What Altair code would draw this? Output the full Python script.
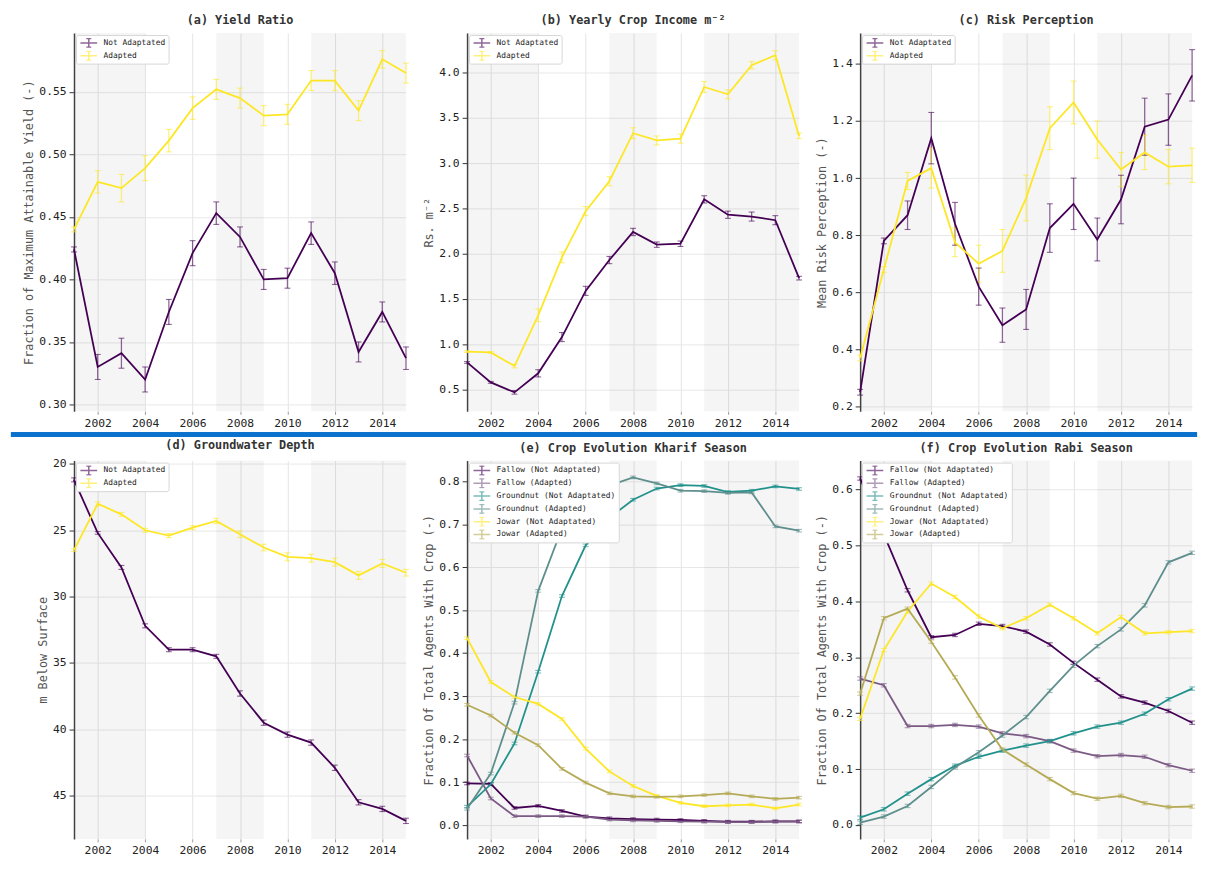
import altair as alt
import pandas as pd

YEARS = list(range(2001, 2016))
BANDS_START = [2001, 2007, 2011]
BANDS_END = [2004, 2009, 2015]

# (a) Yield ratio
a_na = [0.424, 0.330, 0.341, 0.320, 0.374, 0.421, 0.453, 0.434, 0.400, 0.401, 0.437, 0.405, 0.342, 0.374, 0.337]
a_na_err = [0.002, 0.010, 0.012, 0.010, 0.010, 0.010, 0.009, 0.008, 0.008, 0.008, 0.009, 0.009, 0.008, 0.008, 0.009]
a_ad = [0.440, 0.478, 0.473, 0.489, 0.511, 0.537, 0.552, 0.545, 0.531, 0.532, 0.559, 0.559, 0.535, 0.576, 0.565]
a_ad_err = [0.002, 0.009, 0.011, 0.010, 0.009, 0.009, 0.008, 0.008, 0.008, 0.008, 0.008, 0.008, 0.008, 0.007, 0.008]

# (b) Yearly crop income
b_na = [0.80, 0.58, 0.47, 0.68, 1.08, 1.59, 1.93, 2.24, 2.10, 2.11, 2.60, 2.43, 2.41, 2.37, 1.73]
b_na_err = [0.01, 0.01, 0.02, 0.04, 0.05, 0.05, 0.04, 0.04, 0.03, 0.03, 0.04, 0.04, 0.05, 0.05, 0.02]
b_ad = [0.92, 0.91, 0.76, 1.32, 1.96, 2.47, 2.80, 3.33, 3.25, 3.27, 3.84, 3.76, 4.08, 4.19, 3.30]
b_ad_err = [0.01, 0.01, 0.02, 0.07, 0.06, 0.05, 0.05, 0.06, 0.05, 0.05, 0.06, 0.05, 0.04, 0.05, 0.03]

# (c) Risk perception
c_na = [0.25, 0.78, 0.87, 1.14, 0.84, 0.62, 0.485, 0.54, 0.825, 0.91, 0.785, 0.925, 1.18, 1.205, 1.36]
c_na_err = [0.01, 0.01, 0.05, 0.09, 0.075, 0.065, 0.06, 0.07, 0.085, 0.09, 0.075, 0.085, 0.10, 0.09, 0.09]
c_ad = [0.37, 0.68, 0.99, 1.035, 0.775, 0.70, 0.745, 0.93, 1.175, 1.265, 1.135, 1.03, 1.09, 1.04, 1.045]
c_ad_err = [0.01, 0.01, 0.03, 0.07, 0.05, 0.065, 0.075, 0.08, 0.075, 0.075, 0.065, 0.06, 0.06, 0.06, 0.06]

# (d) Groundwater depth
d_na = [21.2, 25.2, 27.8, 32.2, 34.0, 34.0, 34.5, 37.3, 39.5, 40.4, 41.0, 42.9, 45.5, 46.0, 46.9]
d_na_err = [0.15, 0.1, 0.15, 0.15, 0.15, 0.15, 0.15, 0.2, 0.2, 0.2, 0.2, 0.2, 0.2, 0.2, 0.2]
d_ad = [26.5, 23.0, 23.8, 25.0, 25.4, 24.8, 24.3, 25.3, 26.3, 27.0, 27.1, 27.4, 28.4, 27.5, 28.2]
d_ad_err = [0.1, 0.15, 0.15, 0.15, 0.15, 0.15, 0.2, 0.25, 0.25, 0.3, 0.3, 0.3, 0.3, 0.3, 0.25]

# (e) Kharif season crops
e_fal_na = [0.097, 0.096, 0.040, 0.045, 0.033, 0.020, 0.016, 0.014, 0.013, 0.012, 0.010, 0.008, 0.008, 0.009, 0.009]
e_fal_ad = [0.162, 0.062, 0.021, 0.021, 0.021, 0.020, 0.013, 0.011, 0.010, 0.009, 0.008, 0.007, 0.007, 0.008, 0.008]
e_gn_na = [0.043, 0.095, 0.190, 0.357, 0.533, 0.651, 0.715, 0.757, 0.783, 0.791, 0.789, 0.775, 0.778, 0.788, 0.782]
e_gn_ad = [0.038, 0.120, 0.285, 0.545, 0.690, 0.750, 0.790, 0.809, 0.795, 0.778, 0.777, 0.773, 0.774, 0.695, 0.685]
e_jw_na = [0.435, 0.333, 0.298, 0.282, 0.247, 0.178, 0.125, 0.091, 0.068, 0.052, 0.044, 0.046, 0.048, 0.039, 0.048]
e_jw_ad = [0.280, 0.255, 0.215, 0.186, 0.131, 0.099, 0.074, 0.067, 0.066, 0.067, 0.070, 0.074, 0.067, 0.061, 0.064]

# (f) Rabi season crops
f_fal_na = [0.620, 0.520, 0.420, 0.336, 0.340, 0.360, 0.356, 0.346, 0.323, 0.290, 0.260, 0.230, 0.219, 0.204, 0.183]
f_fal_ad = [0.262, 0.250, 0.177, 0.177, 0.179, 0.176, 0.164, 0.159, 0.150, 0.133, 0.123, 0.125, 0.122, 0.107, 0.097]
f_gn_na = [0.013, 0.028, 0.056, 0.082, 0.106, 0.122, 0.133, 0.142, 0.150, 0.164, 0.176, 0.183, 0.199, 0.225, 0.244]
f_gn_ad = [0.004, 0.015, 0.034, 0.068, 0.103, 0.130, 0.160, 0.193, 0.240, 0.285, 0.320, 0.350, 0.393, 0.470, 0.487]
f_jw_na = [0.190, 0.313, 0.382, 0.432, 0.408, 0.373, 0.352, 0.370, 0.394, 0.370, 0.343, 0.372, 0.343, 0.345, 0.347]
f_jw_ad = [0.235, 0.370, 0.387, 0.328, 0.264, 0.196, 0.135, 0.108, 0.082, 0.057, 0.047, 0.052, 0.039, 0.032, 0.033]
CROP_ERR = 0.003

ADAPT_NAMES = ["Not Adaptated", "Adapted"]
ADAPT_COLORS = ["#440154", "#fde725"]
CROP_NAMES = ["Fallow (Not Adaptated)", "Fallow (Adapted)", "Groundnut (Not Adaptated)",
              "Groundnut (Adapted)", "Jowar (Not Adaptated)", "Jowar (Adapted)"]
CROP_COLORS = ["#440154", "#7b5a84", "#21918c", "#5e8f8d", "#fde725", "#b5aa55"]

MONO = "DejaVu Sans Mono"
W, H = 337, 384
ERR_PATH = "M-1.7,0L1.7,0M0,-0.9L0,0.9M-0.5,-0.9L0.5,-0.9M-0.5,0.9L0.5,0.9"

bands = pd.DataFrame({"start": BANDS_START, "end": BANDS_END})


def make_df(names, values, errs):
    rows = []
    for n, v, e in zip(names, values, errs):
        for yr, val, er in zip(YEARS, v, e):
            rows.append({"year": yr, "value": val, "lo": val - er, "hi": val + er, "series": n})
    return pd.DataFrame(rows)


def panel(title, ytitle, df, names, colors, domain, ticks, fmt, reverse=False, separator=False):
    xsc = alt.Scale(domain=[2001, 2015], nice=False, zero=False)
    xs = alt.X("year:Q", scale=xsc,
               axis=alt.Axis(values=list(range(2002, 2015, 2)), format="d", title=None,
                             domain=False, tickColor="#999999", tickSize=3,
                             gridColor="#e4e4e4", labelPadding=3))
    ysc = alt.Scale(domain=domain, nice=False, zero=False, reverse=reverse)
    ys = alt.Y("value:Q", scale=ysc,
               axis=alt.Axis(values=ticks, format=fmt, title=ytitle, titlePadding=3,
                             gridColor="#e8e8e8"))
    cscale = alt.Scale(domain=names, range=colors)
    legend = alt.Legend(title=None, orient="top-left", offset=2, padding=3,
                        fillColor="white", strokeColor="#d6d6d6", cornerRadius=2,
                        labelFont=MONO, labelFontSize=8, labelColor="#222222",
                        symbolType=ERR_PATH, symbolSize=100, symbolStrokeWidth=1.5,
                        symbolOffset=4, rowPadding=3, clipHeight=10, labelOffset=9,
                        labelLimit=300)
    col = alt.Color("series:N", scale=cscale, legend=legend, sort=names)

    base = alt.Chart(df)
    band_layer = alt.Chart(bands).mark_rect(color="#000000", opacity=0.04).encode(
        x=alt.X("start:Q", scale=xsc), x2="end:Q", y=alt.value(0), y2=alt.value(H))
    line = base.mark_line(strokeWidth=1.8).encode(x=xs, y=ys, color=col)
    rule = base.mark_rule(strokeWidth=1.3, opacity=0.6).encode(
        x="year:Q", y=alt.Y("lo:Q", scale=ysc), y2="hi:Q", color=col)
    cap_lo = base.mark_tick(orient="horizontal", size=6, thickness=1.1, opacity=0.6).encode(
        x="year:Q", y=alt.Y("lo:Q", scale=ysc), color=col)
    cap_hi = base.mark_tick(orient="horizontal", size=6, thickness=1.1, opacity=0.6).encode(
        x="year:Q", y=alt.Y("hi:Q", scale=ysc), color=col)
    layers = [band_layer, rule, cap_lo, cap_hi, line]
    if separator:
        sep = alt.Chart(bands).mark_rule(color="#0a72cc", strokeWidth=4.6).encode(
            x=alt.value(-64), x2=alt.value(1140), y=alt.value(H + 23.5))
        layers.append(sep)
    return alt.layer(*layers).properties(
        width=W, height=H,
        title=alt.TitleParams(title, font=MONO, fontSize=12, fontWeight="bold",
                              color="#333333", offset=6, anchor="middle"))


df_a = make_df(ADAPT_NAMES, [a_na, a_ad], [a_na_err, a_ad_err])
df_b = make_df(ADAPT_NAMES, [b_na, b_ad], [b_na_err, b_ad_err])
df_c = make_df(ADAPT_NAMES, [c_na, c_ad], [c_na_err, c_ad_err])
df_d = make_df(ADAPT_NAMES, [d_na, d_ad], [d_na_err, d_ad_err])
crop_err = [[CROP_ERR] * len(YEARS)] * 6
df_e = make_df(CROP_NAMES, [e_fal_na, e_fal_ad, e_gn_na, e_gn_ad, e_jw_na, e_jw_ad], crop_err)
df_f = make_df(CROP_NAMES, [f_fal_na, f_fal_ad, f_gn_na, f_gn_ad, f_jw_na, f_jw_ad], crop_err)

pa = panel("(a) Yield Ratio", "Fraction of Maximum Attainable Yield (-)", df_a, ADAPT_NAMES,
           ADAPT_COLORS, [0.2945, 0.597], [0.30, 0.35, 0.40, 0.45, 0.50, 0.55], ".2f", separator=True)
pb = panel("(b) Yearly Crop Income m\u207b\u00b2", "Rs. m\u207b\u00b2", df_b, ADAPT_NAMES,
           ADAPT_COLORS, [0.26, 4.435], [0.5, 1.0, 1.5, 2.0, 2.5, 3.0, 3.5, 4.0], ".1f")
pc = panel("(c) Risk Perception", "Mean Risk Perception (-)", df_c, ADAPT_NAMES,
           ADAPT_COLORS, [0.183, 1.508], [0.2, 0.4, 0.6, 0.8, 1.0, 1.2, 1.4], ".1f")
pd_ = panel("(d) Groundwater Depth", "m Below Surface", df_d, ADAPT_NAMES,
            ADAPT_COLORS, [19.75, 48.26], [20, 25, 30, 35, 40, 45], "d", reverse=True)
pe = panel("(e) Crop Evolution Kharif Season", "Fraction Of Total Agents With Crop (-)", df_e,
           CROP_NAMES, CROP_COLORS, [-0.032, 0.848], [0.0, 0.1, 0.2, 0.3, 0.4, 0.5, 0.6, 0.7, 0.8], ".1f")
pf = panel("(f) Crop Evolution Rabi Season", "Fraction Of Total Agents With Crop (-)", df_f,
           CROP_NAMES, CROP_COLORS, [-0.025, 0.652], [0.0, 0.1, 0.2, 0.3, 0.4, 0.5, 0.6], ".1f")

chart = alt.concat(pa, pb, pc, pd_, pe, pf, columns=3, spacing={"row": 50, "column": 62},
                   bounds="flush").resolve_scale(color="independent").properties(
    background="white", padding=0
).configure_view(stroke=None).configure_axis(
    labelFont=MONO, labelFontSize=11.5, labelColor="#222222",
    titleFont=MONO, titleFontSize=12, titleColor="#555555", titleFontWeight="normal",
    tickColor="#333333", tickSize=5, domainColor="#444444", domainWidth=1.5,
).configure_axisY(labelPadding=3)

chart.save("out.html", embed_options={"renderer": "svg", "actions": False})
